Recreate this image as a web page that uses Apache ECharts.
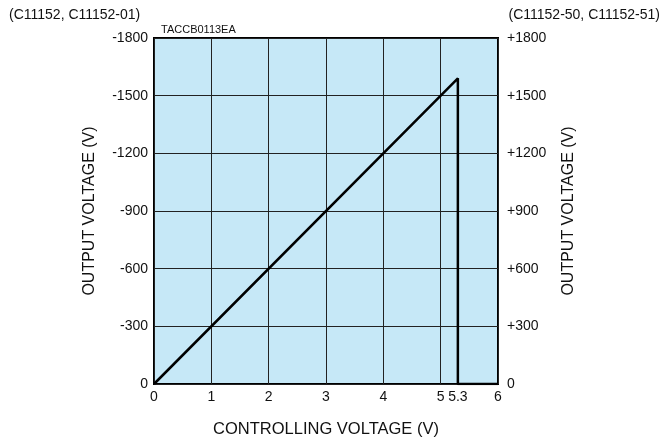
<!DOCTYPE html>
<html><head><meta charset="utf-8">
<script src="https://cdn.jsdelivr.net/npm/echarts@6/dist/echarts.min.js"></script>
<style>html,body{margin:0;padding:0;background:#fff}#c{width:668px;height:440px}</style>
</head><body><div id="c"></div>
<script>
const xTickLabels = [0, 1, 2, 3, 4, 5, 5.3, 6];
const yTicks = [0, 300, 600, 900, 1200, 1500, 1800];
const curveX = [0, 5.3, 5.3, 6];
const curveY = [0, 1590, 0, 0];
const leftTitle = '(C11152, C11152-01)';
const rightTitle = '(C11152-50, C11152-51)';
const code = 'TACCB0113EA';

const font = 'Liberation Sans, Arial, sans-serif';
const chart = echarts.init(document.getElementById('c'));
const yAxisBase = {
  type: 'value', min: 0, max: 1800, interval: 300,
  axisLine: { show: false }, axisTick: { show: false },
  nameLocation: 'middle', nameRotate: 90, nameMoveOverlap: false,
  nameTextStyle: { fontFamily: font, fontSize: 16, color: '#111' }
};
chart.setOption({
  animation: false,
  grid: { left: 154, top: 38, right: 170, bottom: 56, containLabel: false, outerBoundsMode: 'none', show: true, backgroundColor: '#c6e8f7', borderColor: '#000', borderWidth: 2 },
  title: [
    { text: leftTitle, left: 4, top: 3, textStyle: { fontFamily: font, fontSize: 14, fontWeight: 'normal', color: '#111' } },
    { text: rightTitle, right: 3, top: 3, textStyle: { fontFamily: font, fontSize: 14, fontWeight: 'normal', color: '#111' } },
    { text: code, left: 156, top: 19, textStyle: { fontFamily: font, fontSize: 11, fontWeight: 'normal', color: '#111' } }
  ],
  xAxis: {
    type: 'value', min: 0, max: 6, interval: 1,
    name: 'CONTROLLING VOLTAGE (V)', nameLocation: 'middle', nameGap: 37, nameMoveOverlap: false,
    nameTextStyle: { fontFamily: font, fontSize: 16.5, color: '#111' },
    axisLine: { show: false }, axisTick: { show: false },
    axisLabel: { customValues: xTickLabels, fontFamily: font, fontSize: 14, color: '#111', margin: 6 },
    splitLine: { show: true, lineStyle: { color: '#222', width: 1 } }
  },
  yAxis: [
    Object.assign({}, yAxisBase, {
      position: 'left', name: 'OUTPUT VOLTAGE (V)', nameGap: 56,
      axisLabel: { fontFamily: font, fontSize: 14, color: '#111', margin: 6, formatter: v => v === 0 ? '0' : '-' + v },
      splitLine: { show: true, lineStyle: { color: '#222', width: 1 } }
    }),
    Object.assign({}, yAxisBase, {
      position: 'right', name: 'OUTPUT VOLTAGE (V)', nameGap: 63,
      axisLabel: { fontFamily: font, fontSize: 14, color: '#111', margin: 9, formatter: v => v === 0 ? '0' : '+' + v },
      splitLine: { show: false }
    })
  ],
  series: [{
    type: 'line', data: curveX.map((x, i) => [x, curveY[i]]),
    showSymbol: false, symbol: 'none',
    lineStyle: { color: '#000', width: 2.5 }
  }]
});
</script></body></html>
